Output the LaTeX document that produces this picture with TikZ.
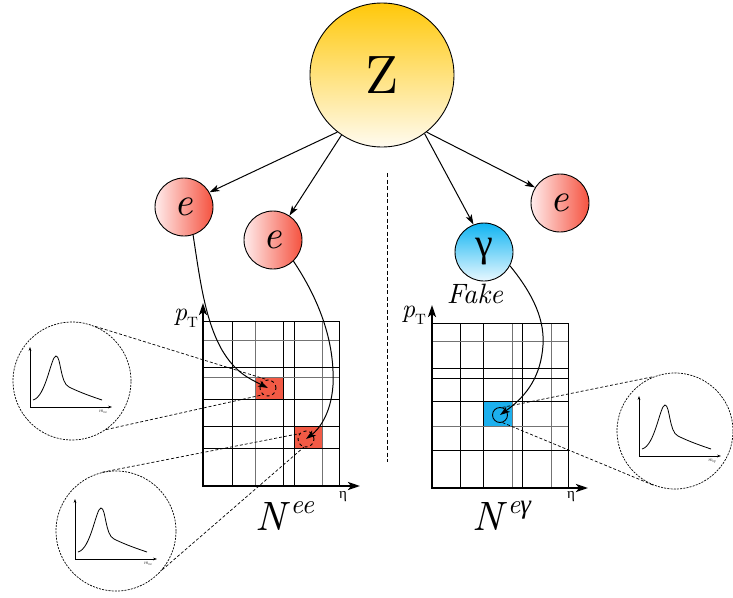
\documentclass[tikz,border=0pt]{standalone}
\usepackage{fontspec}
\setmainfont{lmroman10-regular.otf}[ItalicFont=lmroman10-italic.otf,BoldFont=lmroman10-bold.otf]
\newfontfamily\grk{Liberation Serif}
\usetikzlibrary{arrows.meta}
\definecolor{zgold}{HTML}{FFC80A}
\definecolor{zlight}{HTML}{FFFBF0}
\definecolor{ered}{HTML}{F5523F}
\definecolor{elight}{HTML}{FFECEC}
\definecolor{gblue}{HTML}{10B4F2}
\definecolor{glight}{HTML}{E8F8FF}
\definecolor{cellred}{HTML}{F25A45}
\definecolor{cellblue}{HTML}{1CB0EE}
\newcommand{\fsz}[1]{\fontsize{#1}{#1}\selectfont}
\newcommand{\ptlabel}{\textit{p}\raisebox{-0.28em}{\fsz{15}T}}
\tikzset{
  particle/.style={circle,draw,line width=0.9pt,inner sep=0pt,minimum size=58pt},
  arr/.style={line width=1pt,-{Stealth[length=10pt,width=6.5pt,inset=2.5pt]}},
  gridblack/.style={line width=1pt,black},
  gridgray/.style={line width=1pt,black!55},
  axisline/.style={line width=2.9pt,{Stealth[length=12pt,width=8pt,inset=3pt]}-{Stealth[length=12pt,width=8pt,inset=3pt]}},
  zoomc/.style={circle,draw,line width=0.7pt,dash pattern=on 2pt off 1.2pt,inner sep=0pt},
  smallc/.style={circle,draw,line width=0.9pt,inner sep=0pt},
  zoomline/.style={line width=0.7pt,dash pattern=on 3pt off 2pt},
  miniaxis/.style={line width=0.7pt,-{Stealth[length=4pt,width=2.8pt]}},
  miniplot/.pic={
    \draw[miniaxis] (-42,26) -- (-42,-34);
    \draw[miniaxis] (-42,26) -- (40,26);
    \draw[line width=0.8pt] (-39,19) .. controls (-26,16) and (-21,-25) .. (-16,-25)
       .. controls (-11,-25) and (-12,2) .. (-3,6)
       .. controls (5,10) and (15,14) .. (30,19);
    \node[inner sep=0pt] (-lbl) at (31,31) {\fsz{5.5}\textit{m}\raisebox{-0.2em}{\fsz{3.8}#1}};
  },
  bigtext/.style={font=\fontsize{#1}{#1}\selectfont}
}
\begin{document}
\begin{tikzpicture}[x=1pt,y=-1pt]
\useasboundingbox (0,0) rectangle (733,597);

% ---------- left histogram ----------
\fill[cellred] (255,377) rectangle (283,399);
\fill[cellred] (294,426) rectangle (322,448);
\foreach \x/\s in {232/gridblack,255/gridgray,283/gridblack,294/gridblack,322/gridgray,339/gridblack}
  \draw[\s] (\x,321) -- (\x,486);
\foreach \y/\s in {321/gridblack,340/gridgray,367/gridblack,377/gridgray,399/gridblack,426/gridblack,448/gridblack}
  \draw[\s] (203,\y) -- (339,\y);
\coordinate (lytop) at (203,303);
\coordinate (lorig) at (203,486);
\coordinate (lxend) at (360,486);
\draw[axisline] (lytop) -- (lorig) -- (lxend);
\node[bigtext=26] (ptL) at (186,318) {\ptlabel};
\node[font=\grk\fontsize{15}{15}\selectfont] (etaL) at (343,497) {η};
\node[bigtext=41] (NL) at (285,516) {\textit{N}\raisebox{0.42em}{\fsz{27}\textit{ee}}};

% ---------- right histogram ----------
\fill[cellblue] (483,401) rectangle (512,426);
\foreach \x/\s in {460/gridblack,483/gridblack,512/gridgray,522/gridblack,551/gridgray,568/gridblack}
  \draw[\s] (\x,323) -- (\x,488);
\foreach \y/\s in {323/gridblack,341/gridgray,368/gridblack,378/gridblack,401/gridblack,426/gridgray,450/gridblack}
  \draw[\s] (432,\y) -- (568,\y);
\coordinate (rytop) at (432,305);
\coordinate (rorig) at (432,488);
\coordinate (rxend) at (588,488);
\draw[axisline] (rytop) -- (rorig) -- (rxend);
\node[bigtext=26] (ptR) at (414,315) {\ptlabel};
\node[font=\grk\fontsize{15}{15}\selectfont] (etaR) at (571,497) {η};
\node[bigtext=41] (NR) at (502,516) {\textit{N}\raisebox{0.42em}{\fsz{27}\textit{e}{\grk\itshape γ}}};

% ---------- separator ----------
\coordinate (vtop) at (387,173);
\coordinate (vbot) at (387,462);
\draw[line width=0.8pt,dash pattern=on 4pt off 2.5pt] (vtop) -- (vbot);

% ---------- particles ----------
\node[particle,minimum size=144pt,top color=zgold,bottom color=zlight,bigtext=54] (Z) at (382,75) {Z};
\node[particle,left color=elight,right color=ered,bigtext=40] (e1) at (184,207) {\textit{e}};
\node[particle,left color=elight,right color=ered,bigtext=40] (e2) at (273,240) {\textit{e}};
\node[particle,top color=gblue,bottom color=glight,font=\grk\fontsize{40}{40}\selectfont] (gam) at (484,252) {γ};
\node[particle,left color=elight,right color=ered,bigtext=40] (e3) at (560,203) {\textit{e}};
\node[bigtext=28] (fake) at (475,294) {\textit{Fake}};

\draw[arr] (Z.232) -- (e1.30);
\draw[arr] (Z.236) -- (e2.56);
\draw[arr] (Z.306) -- (gam.111);
\draw[arr] (Z.308) -- (e3.148);

% ---------- small circles in cells ----------
\node[smallc,dashed,minimum size=16pt] (sc1) at (268,388) {};
\node[smallc,dashed,minimum size=16pt] (sc2) at (306,439) {};
\node[smallc,minimum size=15pt] (sc3) at (500,415) {};

% ---------- curved arrows ----------
\draw[arr] (e1.288) .. controls (200,280) and (205,320) .. (222,350)
   .. controls (235,372) and (248,378) .. (sc1.center);
\draw[arr] (e2.314) .. controls (318,298) and (335,340) .. (333,385)
   .. controls (331,415) and (318,430) .. (sc2.center);
\draw[arr] (gam.332) .. controls (528,288) and (545,315) .. (543,345)
   .. controls (541,375) and (528,395) .. (sc3.center);

% ---------- zoom circles ----------
\node[zoomc,minimum size=118pt] (bc1) at (72,381) {};
\node[zoomc,minimum size=120pt] (bc2) at (116,531) {};
\node[zoomc,minimum size=116pt] (bc3) at (675,431) {};
\pic (p1) at (72,381) {miniplot={ee}};
\pic (p2) at (117,533) {miniplot={ee}};
\pic (p3) at (681,430) {miniplot={e{\grk\itshape γ}}};

\draw[zoomline] (bc1.67) -- (sc1.97);
\draw[zoomline] (bc1.305) -- (sc1.233);
\draw[zoomline] (bc2.103) -- (sc2.140);
\draw[zoomline] (bc2.320) -- (sc2.255);
\draw[zoomline] (sc3.73) -- (bc3.111);
\draw[zoomline] (sc3.288) -- (bc3.249);
\end{tikzpicture}
\end{document}
